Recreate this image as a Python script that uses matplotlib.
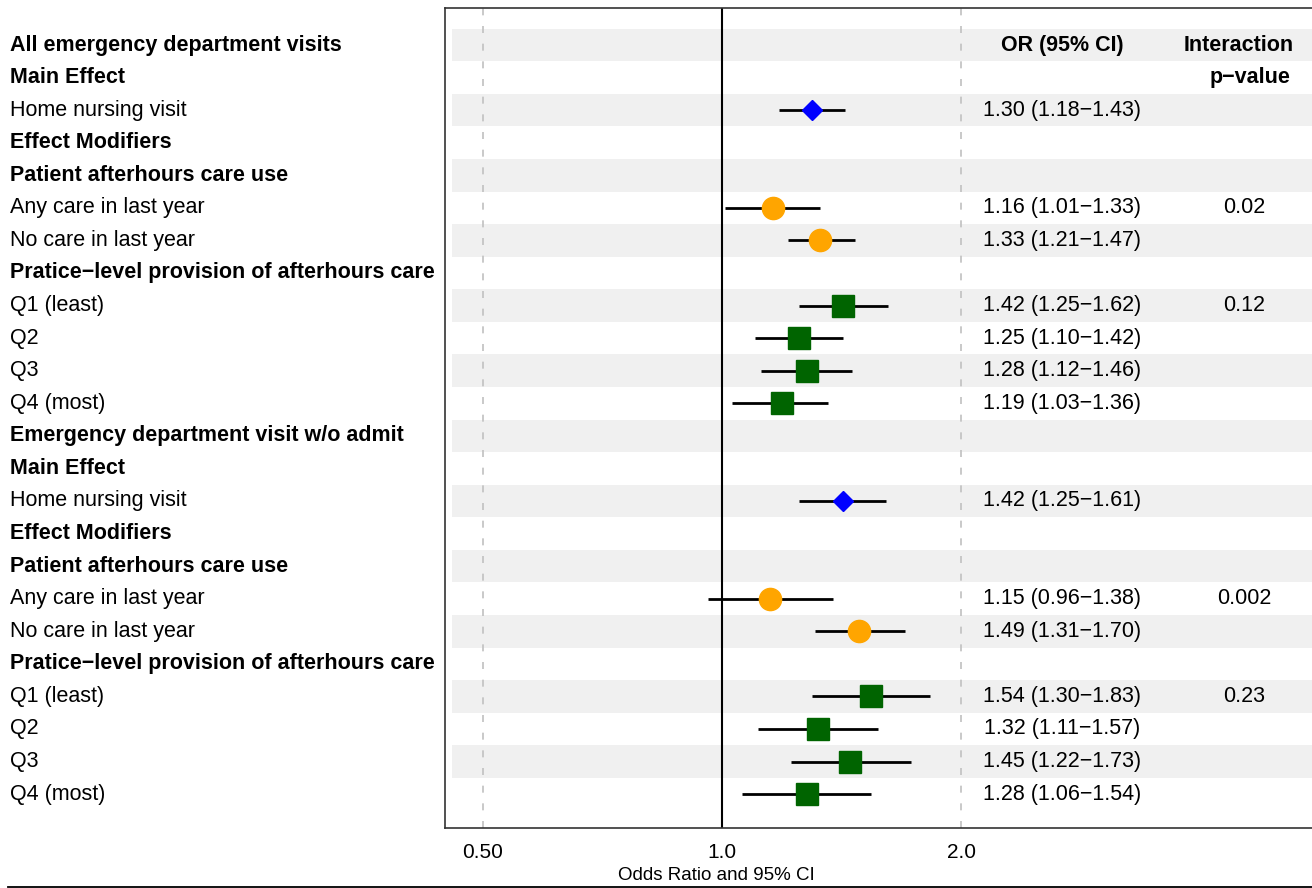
import numpy as np
import matplotlib
matplotlib.use("Agg")
import matplotlib.pyplot as plt
from matplotlib.lines import Line2D
from matplotlib.transforms import blended_transform_factory

plt.rcParams['font.family'] = ['Liberation Sans', 'DejaVu Sans']

# ------------------------------------------------------------------
# Data (one entry per row, top to bottom)
# ------------------------------------------------------------------
labels = [
    "All emergency department visits", "Main Effect", "Home nursing visit",
    "Effect Modifiers", "Patient afterhours care use",
    "Any care in last year", "No care in last year",
    "Pratice\u2212level provision of afterhours care",
    "Q1 (least)", "Q2", "Q3", "Q4 (most)",
    "Emergency department visit w/o admit", "Main Effect", "Home nursing visit",
    "Effect Modifiers", "Patient afterhours care use",
    "Any care in last year", "No care in last year",
    "Pratice\u2212level provision of afterhours care",
    "Q1 (least)", "Q2", "Q3", "Q4 (most)",
]
is_bold = [1, 1, 0, 1, 1, 0, 0, 1, 0, 0, 0, 0,
           1, 1, 0, 1, 1, 0, 0, 1, 0, 0, 0, 0]
nan = np.nan
odds_ratio = [nan, nan, 1.30, nan, nan, 1.16, 1.33, nan, 1.42, 1.25, 1.28, 1.19,
              nan, nan, 1.42, nan, nan, 1.15, 1.49, nan, 1.54, 1.32, 1.45, 1.28]
ci_low = [nan, nan, 1.18, nan, nan, 1.01, 1.21, nan, 1.25, 1.10, 1.12, 1.03,
          nan, nan, 1.25, nan, nan, 0.96, 1.31, nan, 1.30, 1.11, 1.22, 1.06]
ci_high = [nan, nan, 1.43, nan, nan, 1.33, 1.47, nan, 1.62, 1.42, 1.46, 1.36,
           nan, nan, 1.61, nan, nan, 1.38, 1.70, nan, 1.83, 1.57, 1.73, 1.54]
# marker group: main effect / patient afterhours use / practice provision
group = ["", "", "main", "", "", "patient", "patient", "", "practice", "practice", "practice", "practice",
         "", "", "main", "", "", "patient", "patient", "", "practice", "practice", "practice", "practice"]
p_values = ["", "", "", "", "", "0.02", "", "", "0.12", "", "", "",
            "", "", "", "", "", "0.002", "", "", "0.23", "", "", ""]

styles = {
    "main": dict(marker="D", color="#0000FF", ms=10.3),
    "patient": dict(marker="o", color="#FFA500", ms=16),
    "practice": dict(marker="s", color="#006400", ms=16),
}

# ------------------------------------------------------------------
W, H = 1312, 888
fig = plt.figure(figsize=(W / 100, H / 100), dpi=100)
ax_left, ax_right, ax_top, ax_bottom = 445, 1312, 8, 828
ax = fig.add_axes([ax_left / W, 1 - ax_bottom / H, (ax_right - ax_left) / W, (ax_bottom - ax_top) / H])

n_rows = len(labels)
rows = np.arange(1, n_rows + 1)

ax.set_xscale("log")
x_min = 2 ** ((ax_left - 722) / 239)
x_max = 2 ** ((ax_right - 722) / 239)
ax.set_xlim(x_min, x_max)
ax.set_ylim(25.04, -0.136)

# alternating shaded bands
band_rows = rows[::2]
ax.barh(band_rows, width=20, left=0.457, height=1.0, color="#f0f0f0", zorder=0)

ax.axvline(0.5, color="#c0c0c0", lw=1.2, ls=(0, (4.2, 6.4)), zorder=1)
ax.axvline(2.0, color="#c0c0c0", lw=1.2, ls=(0, (4.2, 6.4)), zorder=1)
ax.axvline(1.0, color="black", lw=1.5, zorder=1)

for r, est, lo, hi, g in zip(rows, odds_ratio, ci_low, ci_high, group):
    if not g:
        continue
    ax.hlines(r, lo, hi, color="black", lw=2, zorder=2)
    st = styles[g]
    ax.plot(est, r, marker=st["marker"], color=st["color"], ms=st["ms"],
            linestyle="None", zorder=3)

# text columns
fs = 15.5
col_tr = ax.get_yaxis_transform()
def ax_x(px):
    return (px - ax_left) / (ax_right - ax_left)

ax.text(ax_x(1062), 1, "OR (95% CI)", transform=col_tr, ha="center", va="center",
        fontsize=fs, fontweight="bold")
ax.text(ax_x(1239), 1, "Interaction", transform=col_tr, ha="center", va="center",
        fontsize=fs, fontweight="bold")
ax.text(ax_x(1250), 2, "p\u2212value", transform=col_tr, ha="center", va="center",
        fontsize=fs, fontweight="bold")

for r, est, lo, hi, p in zip(rows, odds_ratio, ci_low, ci_high, p_values):
    if not np.isnan(est):
        ax.text(ax_x(1062), r, f"{est:.2f} ({lo:.2f}\u2212{hi:.2f})", transform=col_tr,
                ha="center", va="center", fontsize=fs)
    if p:
        ax.text(ax_x(1244), r, p, transform=col_tr, ha="center", va="center", fontsize=fs)

# left-hand row labels
lab_tr = blended_transform_factory(fig.transFigure, ax.transData)
for r, lab, b in zip(rows, labels, is_bold):
    ax.text(10 / W, r, lab, transform=lab_tr, ha="left", va="center", fontsize=fs,
            fontweight="bold" if b else "normal", clip_on=False)

ax.set_yticks([])
ax.set_xticks([0.5, 1.0, 2.0], labels=["0.50", "1.0", "2.0"])
ax.minorticks_off()
ax.tick_params(axis="x", length=0, pad=11, labelsize=15, colors="black")

for side in ["left", "top", "bottom"]:
    ax.spines[side].set_color("#333333")
    ax.spines[side].set_linewidth(1.2)
ax.spines["right"].set_visible(False)

fig.text(716 / W, 1 - 875 / H, "Odds Ratio and 95% CI", ha="center", va="center", fontsize=13.5)
fig.add_artist(Line2D([8 / W, 1.0], [1 - 886.5 / H] * 2, color="black", lw=1.3,
                      transform=fig.transFigure))

fig.savefig("out.png", dpi=100)
